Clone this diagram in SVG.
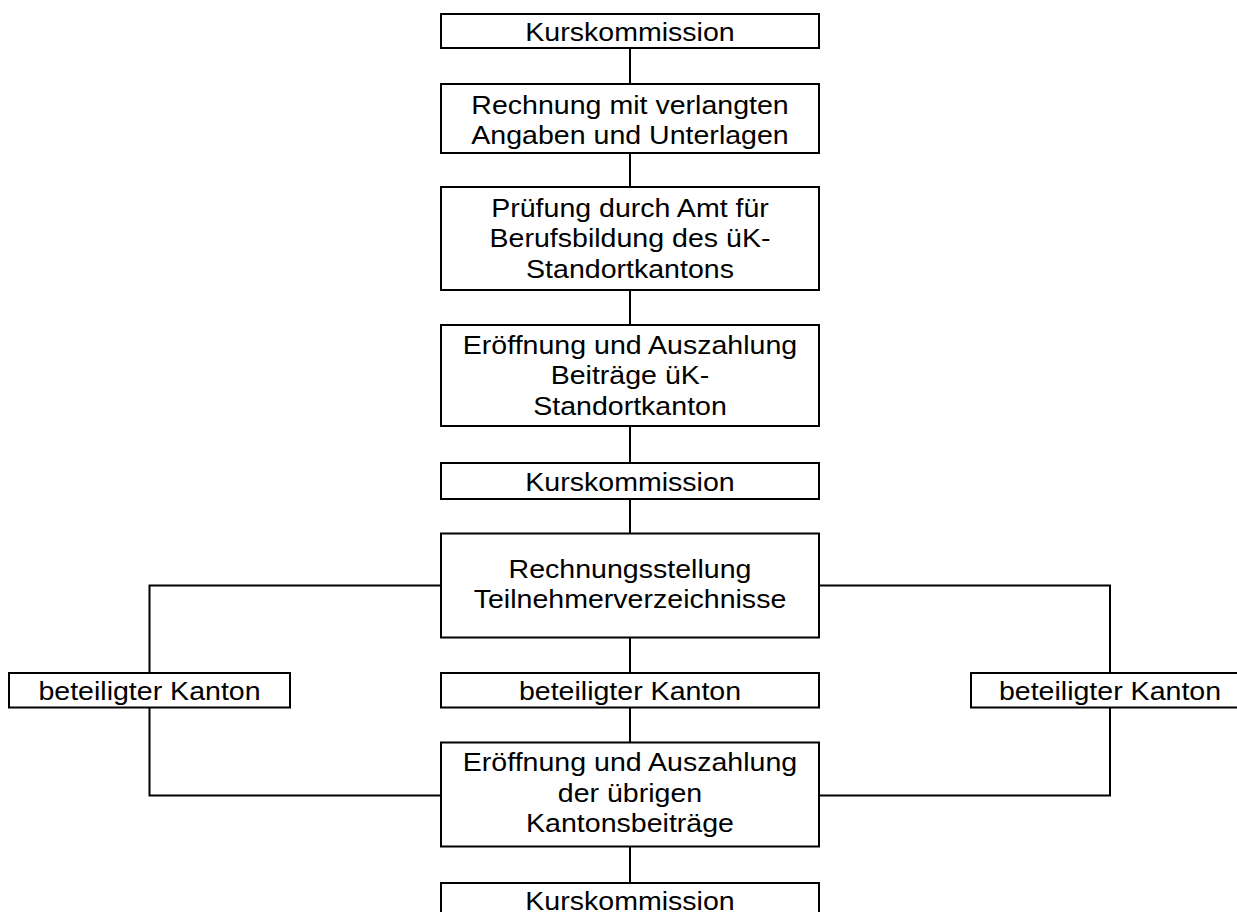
<svg xmlns="http://www.w3.org/2000/svg" width="1237" height="912" viewBox="0 0 1237 912">
<style>
.box{fill:#fff;stroke:#000;stroke-width:2}
.ln{fill:none;stroke:#000;stroke-width:2}
.t{font-family:"Liberation Sans",Arial,sans-serif;font-size:25.5px;fill:#000;text-anchor:middle}
</style>
<rect width="1237" height="912" fill="#fff"/>
<g id="connectors">
<path class="ln" d="M630 48V84M630 153V187M630 290V325M630 426V463M630 499V533M630 637V673M630 707V742M630 846V883"/>
<path class="ln" d="M441 585.5H149.5V673M149.5 707.5V795.5H441"/>
<path class="ln" d="M819 585.5H1110V673M1110 707.5V795.5H819"/>
</g>
<g id="n1"><rect class="box" x="441" y="14" width="378" height="34"/>
<text class="t" transform="translate(630,0) scale(1.12,1)"><tspan x="0" y="41.5">Kurskommission</tspan></text></g>
<g id="n2"><rect class="box" x="441" y="84" width="378" height="69"/>
<text class="t" transform="translate(630,0) scale(1.12,1)"><tspan x="0" y="114.5">Rechnung mit verlangten</tspan><tspan x="0" y="144">Angaben und Unterlagen</tspan></text></g>
<g id="n3"><rect class="box" x="441" y="187" width="378" height="103"/>
<text class="t" transform="translate(630,0) scale(1.12,1)"><tspan x="0" y="217">Prüfung durch Amt für</tspan><tspan x="0" y="247.5">Berufsbildung des üK-</tspan><tspan x="0" y="278">Standortkantons</tspan></text></g>
<g id="n4"><rect class="box" x="441" y="325" width="378" height="101"/>
<text class="t" transform="translate(630,0) scale(1.12,1)"><tspan x="0" y="354">Eröffnung und Auszahlung</tspan><tspan x="0" y="384.5">Beiträge üK-</tspan><tspan x="0" y="415">Standortkanton</tspan></text></g>
<g id="n5"><rect class="box" x="441" y="463" width="378" height="36"/>
<text class="t" transform="translate(630,0) scale(1.12,1)"><tspan x="0" y="491">Kurskommission</tspan></text></g>
<g id="n6"><rect class="box" x="441" y="533.5" width="378" height="104"/>
<text class="t" transform="translate(630,0) scale(1.12,1)"><tspan x="0" y="578">Rechnungsstellung</tspan><tspan x="0" y="608.5">Teilnehmerverzeichnisse</tspan></text></g>
<g id="n7l"><rect class="box" x="9" y="673" width="281" height="34.5"/>
<text class="t" transform="translate(149.5,0) scale(1.12,1)"><tspan x="0" y="700">beteiligter Kanton</tspan></text></g>
<g id="n7"><rect class="box" x="441" y="673" width="378" height="34.5"/>
<text class="t" transform="translate(630,0) scale(1.12,1)"><tspan x="0" y="700.5">beteiligter Kanton</tspan></text></g>
<g id="n7r"><rect class="box" x="971" y="673" width="280" height="34.5"/>
<text class="t" transform="translate(1110,0) scale(1.12,1)"><tspan x="0" y="700.5">beteiligter Kanton</tspan></text></g>
<g id="n8"><rect class="box" x="441" y="742.5" width="378" height="104"/>
<text class="t" transform="translate(630,0) scale(1.12,1)"><tspan x="0" y="771.5">Eröffnung und Auszahlung</tspan><tspan x="0" y="802">der übrigen</tspan><tspan x="0" y="832.5">Kantonsbeiträge</tspan></text></g>
<g id="n9"><rect class="box" x="441" y="883" width="378" height="35"/>
<text class="t" transform="translate(630,0) scale(1.12,1)"><tspan x="0" y="910.5">Kurskommission</tspan></text></g>
</svg>
